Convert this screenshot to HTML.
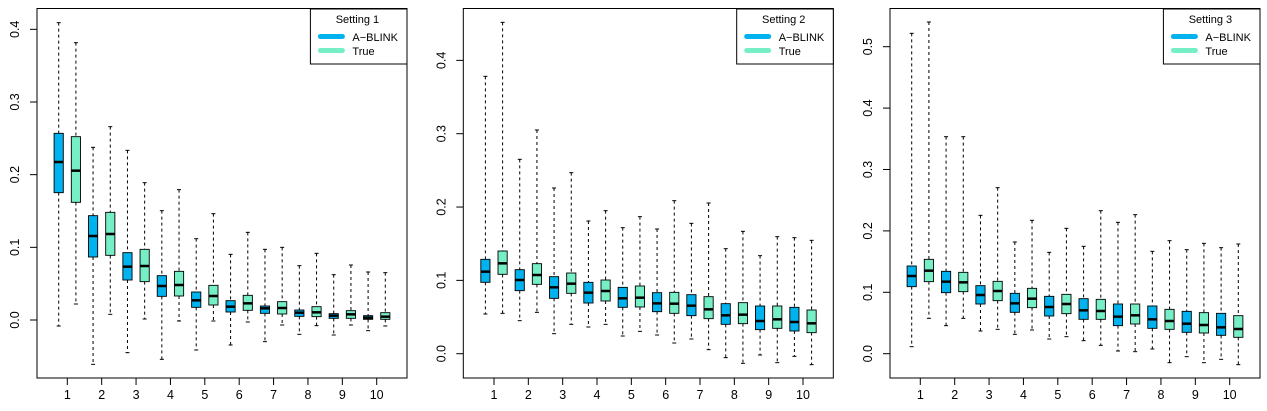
<!DOCTYPE html>
<html><head><meta charset="utf-8"><style>
html,body{margin:0;padding:0;background:#fff;width:1267px;height:411px;overflow:hidden}
svg{display:block}
text{font-family:"Liberation Sans",Arial,sans-serif;fill:#000}
</style></head><body>
<svg id="s" width="1267" height="411" xmlns="http://www.w3.org/2000/svg"></svg>
<script>
const P=[
{ox:0,rx1:37,rx2:407,t1:67.3,t10:376.7,y0:320,sc:726.7,yt:[0,0.1,0.2,0.3,0.4],title:"Setting 1",
d:[[68,400,486,578,978],[128,410,512,607,912],[442,647,708,771,1093],[380,637,702,766,943],[451,758,800,840,1058],[548,748,798,845,957],[632,827,858,889,1078],[569,814,855,888,963],[716,876,901,922,1050],[641,856,888,915,963],[763,902,920,936,1035],[697,886,910,931,966],[748,918,925,940,1025],[742,905,924,942,975],[797,930,938,949,1003],[760,920,937,950,977],[824,941,947,955,1005],[795,932,943,955,975],[816,947,953,958,992],[818,938,950,958,978]]},
{ox:420,rx1:463.3,rx2:833.3,t1:494,t10:803,y0:353.7,sc:733.3,yt:[0,0.1,0.2,0.3,0.4],title:"Setting 2",
d:[[229,778,815,847,942],[67,753,790,823,940],[478,809,840,872,962],[390,791,825,853,937],[564,830,862,895,1001],[518,819,851,880,973],[663,847,878,909,981],[632,840,873,903,973],[683,862,895,922,1008],[650,858,893,921,994],[687,878,910,935,1005],[602,877,911,940,1029],[670,884,917,947,1017],[609,890,928,956,1049],[746,911,946,973,1073],[694,908,944,971,1090],[767,918,963,989,1065],[710,918,958,985,1088],[713,922,966,993,1069],[721,930,970,998,1094]]},
{ox:847,rx1:890,rx2:1260,t1:920.3,t10:1229.7,y0:353.7,sc:614,yt:[0,0.1,0.2,0.3,0.4,0.5],title:"Setting 3",
d:[[100,798,828,860,1040],[66,778,812,845,955],[410,814,845,878,977],[410,817,847,875,955],[646,857,885,912,993],[563,844,873,902,988],[726,880,910,937,1003],[661,865,896,923,990],[757,889,921,948,1017],[685,883,912,941,1010],[739,896,931,958,1022],[632,898,933,958,1036],[667,912,950,977,1053],[644,912,946,972,1055],[754,918,958,985,1047],[722,928,963,988,1088],[749,934,971,997,1070],[730,938,975,999,1088],[743,940,982,1006,1078],[732,947,987,1012,1094]]}
];
const B="#00B2EE",G="#76EEC6";
let h="";
for(const p of P){
 const step=(p.t10-p.t1)/9;
 h+=`<rect x="${p.rx1}" y="8.5" width="${p.rx2-p.rx1}" height="369.5" fill="none" stroke="#000" stroke-width="1"/>`;
 for(let i=0;i<10;i++){const x=p.t1+i*step;h+=`<line x1="${x}" y1="378" x2="${x}" y2="385" stroke="#000"/><text x="${x}" y="399" font-size="12.5" text-anchor="middle">${i+1}</text>`;}
 for(const v of p.yt){const y=p.y0-v*p.sc;h+=`<line x1="${p.rx1}" y1="${y}" x2="${p.rx1-7}" y2="${y}" stroke="#000"/><text transform="translate(${p.rx1-18},${y}) rotate(-90)" font-size="12.5" text-anchor="middle">${v.toFixed(1)}</text>`;}
 p.d.forEach((b,k)=>{
  const i=Math.floor(k/2),c=p.t1+i*step+(k%2?8.6:-8.6),col=k%2?G:B;
  const [wt,q3,md,q1,wb]=b.map(v=>v/3);
  h+=`<line x1="${c}" y1="${wt}" x2="${c}" y2="${q3}" stroke="#000" stroke-dasharray="3,3"/>`;
  h+=`<line x1="${c}" y1="${q1}" x2="${c}" y2="${wb}" stroke="#000" stroke-dasharray="3,3"/>`;
  h+=`<line x1="${c-2}" y1="${wt}" x2="${c+2}" y2="${wt}" stroke="#000"/><line x1="${c-2}" y1="${wb}" x2="${c+2}" y2="${wb}" stroke="#000"/>`;
  h+=`<rect x="${c-4.6}" y="${q3}" width="9.2" height="${q1-q3}" fill="${col}" stroke="#000" stroke-width="0.9"/>`;
  h+=`<line x1="${c-4.6}" y1="${md}" x2="${c+4.6}" y2="${md}" stroke="#000" stroke-width="2.5"/>`;
 });
 const lx=p.rx2-96.6;
 h+=`<rect x="${lx}" y="9" width="96.6" height="55" fill="#fff" stroke="#000"/>`;
 h+=`<text x="${lx+47}" y="23" font-size="11" text-anchor="middle">${p.title}</text>`;
 h+=`<line x1="${lx+10}" y1="36.5" x2="${lx+32}" y2="36.5" stroke="${B}" stroke-width="5" stroke-linecap="round"/>`;
 h+=`<line x1="${lx+10}" y1="50.5" x2="${lx+32}" y2="50.5" stroke="${G}" stroke-width="5" stroke-linecap="round"/>`;
 h+=`<text x="${lx+42}" y="41" font-size="11">A\u2212BLINK</text><text x="${lx+42}" y="55" font-size="11">True</text>`;
}
document.getElementById("s").innerHTML=h;
</script>
</body></html>
